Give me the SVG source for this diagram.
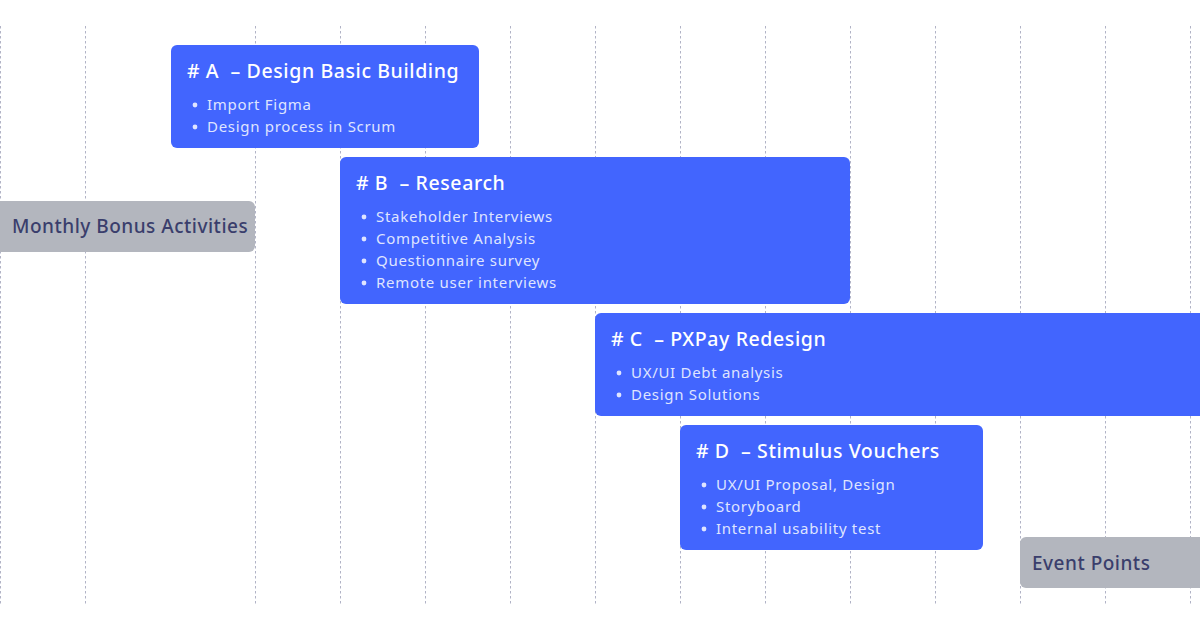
<svg xmlns="http://www.w3.org/2000/svg" width="1200" height="620" viewBox="0 0 1200 620">
  <style>
    .grid line { stroke: #b1b3c6; stroke-width: 1; stroke-dasharray: 2.5 2.5; }
    .task { fill: #4265fe; }
    .title { font-family: "Noto Sans", "Liberation Sans", sans-serif; font-size: 19.5px; font-weight: 500; letter-spacing: 0.6px; fill: #ffffff; }
    .item { font-family: "Noto Sans", "Liberation Sans", sans-serif; font-size: 15px; letter-spacing: 0.7px; fill: #dfe4ff; }
    .dot { fill: #dfe4ff; }
    .tag { fill: #b3b6be; }
    .tagtext { font-family: "Noto Sans", "Liberation Sans", sans-serif; font-size: 19px; font-weight: 500; letter-spacing: 0.5px; fill: #3a3e6c; }
  </style>

  <rect width="1200" height="620" fill="#ffffff"/>

  <!-- column guides -->
  <g id="connectors" class="grid">
    <line x1="0.5" y1="26" x2="0.5" y2="606"/>
    <line x1="85.5" y1="26" x2="85.5" y2="606"/>
    <line x1="255.5" y1="26" x2="255.5" y2="606"/>
    <line x1="340.5" y1="26" x2="340.5" y2="606"/>
    <line x1="425.5" y1="26" x2="425.5" y2="606"/>
    <line x1="510.5" y1="26" x2="510.5" y2="606"/>
    <line x1="595.5" y1="26" x2="595.5" y2="606"/>
    <line x1="680.5" y1="26" x2="680.5" y2="606"/>
    <line x1="765.5" y1="26" x2="765.5" y2="606"/>
    <line x1="850.5" y1="26" x2="850.5" y2="606"/>
    <line x1="935.5" y1="26" x2="935.5" y2="606"/>
    <line x1="1020.5" y1="26" x2="1020.5" y2="606"/>
    <line x1="1105.5" y1="26" x2="1105.5" y2="606"/>
    <line x1="1190.5" y1="26" x2="1190.5" y2="606"/>
  </g>

  <g id="task-a">
    <rect class="task" x="171" y="45" width="308" height="103" rx="6"/>
    <text class="title" x="187" y="78" xml:space="preserve"># A  – Design Basic Building</text>
    <circle class="dot" cx="195" cy="105" r="2.4"/>
    <text class="item" x="207" y="110">Import Figma</text>
    <circle class="dot" cx="195" cy="127" r="2.4"/>
    <text class="item" x="207" y="132">Design process in Scrum</text>
  </g>

  <g id="task-b">
    <rect class="task" x="340" y="157" width="510" height="147" rx="6"/>
    <text class="title" x="356" y="190" xml:space="preserve"># B  – Research</text>
    <circle class="dot" cx="364" cy="217" r="2.4"/>
    <text class="item" x="376" y="222">Stakeholder Interviews</text>
    <circle class="dot" cx="364" cy="239" r="2.4"/>
    <text class="item" x="376" y="244">Competitive Analysis</text>
    <circle class="dot" cx="364" cy="261" r="2.4"/>
    <text class="item" x="376" y="266">Questionnaire survey</text>
    <circle class="dot" cx="364" cy="283" r="2.4"/>
    <text class="item" x="376" y="288">Remote user interviews</text>
  </g>

  <g id="task-c">
    <rect class="task" x="595" y="313" width="620" height="103" rx="6"/>
    <text class="title" x="611" y="346" xml:space="preserve"># C  – PXPay Redesign</text>
    <circle class="dot" cx="619" cy="373" r="2.4"/>
    <text class="item" x="631" y="378">UX/UI Debt analysis</text>
    <circle class="dot" cx="619" cy="395" r="2.4"/>
    <text class="item" x="631" y="400">Design Solutions</text>
  </g>

  <g id="task-d">
    <rect class="task" x="680" y="425" width="303" height="125" rx="6"/>
    <text class="title" x="696" y="458" xml:space="preserve"># D  – Stimulus Vouchers</text>
    <circle class="dot" cx="704" cy="485" r="2.4"/>
    <text class="item" x="716" y="490">UX/UI Proposal, Design</text>
    <circle class="dot" cx="704" cy="507" r="2.4"/>
    <text class="item" x="716" y="512">Storyboard</text>
    <circle class="dot" cx="704" cy="529" r="2.4"/>
    <text class="item" x="716" y="534">Internal usability test</text>
  </g>

  <g id="monthly-bonus">
    <rect class="tag" x="-10" y="201" width="265" height="51" rx="6"/>
    <text class="tagtext" x="12" y="233">Monthly Bonus Activities</text>
  </g>

  <g id="event-points">
    <rect class="tag" x="1020" y="537" width="200" height="51" rx="6"/>
    <text class="tagtext" x="1032" y="570">Event Points</text>
  </g>
</svg>
